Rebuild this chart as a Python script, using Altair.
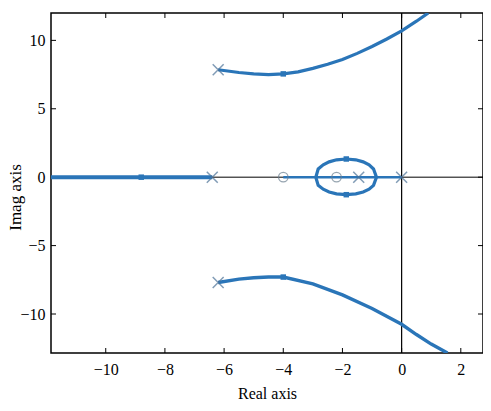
import altair as alt
import pandas as pd

# ---- data ----
x_ticks = [-10, -8, -6, -4, -2, 0, 2]
y_ticks = [-10, -5, 0, 5, 10]
x_dom = [-11.85, 2.75]
y_dom = [-12.85, 12.0]

upper_x = [-6.2, -5.5, -5.0, -4.5, -4.0, -3.5, -3.0, -2.5, -2.0, -1.5, -1.0, -0.5, 0.0, 0.5, 0.9]
upper_y = [7.85, 7.65, 7.55, 7.5, 7.55, 7.7, 7.95, 8.25, 8.6, 9.05, 9.55, 10.1, 10.7, 11.4, 12.0]

lower_x = [-6.2, -5.5, -5.0, -4.5, -4.0, -3.0, -2.0, -1.0, 0.0, 0.5, 1.0, 1.55]
lower_y = [-7.7, -7.45, -7.35, -7.3, -7.3, -7.8, -8.6, -9.6, -10.75, -11.5, -12.2, -12.85]

ell_x = [-2.9, -2.82, -2.65, -2.45, -2.2, -1.87, -1.55, -1.3, -1.1, -0.95, -0.85,
         -0.95, -1.1, -1.3, -1.55, -1.87, -2.2, -2.45, -2.65, -2.82, -2.9]
ell_y = [0.0, 0.6, 0.9, 1.12, 1.27, 1.33, 1.27, 1.12, 0.9, 0.6, 0.0,
         -0.6, -0.88, -1.08, -1.22, -1.28, -1.22, -1.08, -0.88, -0.6, 0.0]

real_left_x = [-11.85, -6.4]
real_right_x = [-4.0, 0.0]

pole_x = [-6.2, -6.2, -6.4, -1.45, 0.0]
pole_y = [7.85, -7.7, 0.0, 0.0, 0.0]
zero_x = [-4.0, -2.2]
zero_y = [0.0, 0.0]

arrow_x = [-8.8, -4.0, -4.0, -1.87, -1.87]
arrow_y = [0.0, 7.55, -7.3, 1.33, -1.28]

BLUE = "#2a75b8"
MARK = "#4d7398"
FONT = "Liberation Serif"

W, H = 432, 340

xs = alt.Scale(domain=x_dom, nice=False, zero=False)
ys = alt.Scale(domain=y_dom, nice=False, zero=False)

def line_df(xv, yv):
    return pd.DataFrame({"x": xv, "y": yv, "o": list(range(len(xv)))})

def curve(xv, yv, width):
    return alt.Chart(line_df(xv, yv)).mark_line(color=BLUE, strokeWidth=width, clip=True).encode(
        x=alt.X("x:Q", scale=xs), y=alt.Y("y:Q", scale=ys), order="o:Q")

base_axes = alt.Chart(pd.DataFrame({"x": [0.0], "y": [0.0]})).mark_point(opacity=0).encode(
    x=alt.X("x:Q", scale=xs, title="Real axis",
            axis=alt.Axis(values=x_ticks, ticks=False, domain=False, grid=False,
                          labelPadding=8, titlePadding=8, labelFont=FONT, titleFont=FONT,
                          labelFontSize=16, titleFontSize=16, labelColor="black",
                          titleColor="black", titleFontWeight="normal")),
    y=alt.Y("y:Q", scale=ys, title="Imag axis",
            axis=alt.Axis(values=y_ticks, ticks=False, domain=False, grid=False,
                          labelPadding=6, labelFont=FONT, titleFont=FONT,
                          labelFontSize=16, titleFontSize=17, labelColor="black",
                          titleColor="black", titleFontWeight="normal",
                          titleAngle=270, titleBaseline="bottom", titleAlign="center",
                          titleX=-27, titleY=184)),
)

zero_h = alt.Chart(pd.DataFrame({"y": [0.0]})).mark_rule(color="black", strokeWidth=1).encode(
    y=alt.Y("y:Q", scale=ys))
zero_v = alt.Chart(pd.DataFrame({"x": [0.0]})).mark_rule(color="black", strokeWidth=1.2).encode(
    x=alt.X("x:Q", scale=xs))

xt = pd.DataFrame({"x": x_ticks})
yt = pd.DataFrame({"y": y_ticks})
tick_b = alt.Chart(xt).mark_rule(color="black").encode(x=alt.X("x:Q", scale=xs), y=alt.value(H), y2=alt.value(H - 5))
tick_t = alt.Chart(xt).mark_rule(color="black").encode(x=alt.X("x:Q", scale=xs), y=alt.value(0), y2=alt.value(5))
tick_l = alt.Chart(yt).mark_rule(color="black").encode(y=alt.Y("y:Q", scale=ys), x=alt.value(0), x2=alt.value(5))
tick_r = alt.Chart(yt).mark_rule(color="black").encode(y=alt.Y("y:Q", scale=ys), x=alt.value(W), x2=alt.value(W - 5))

real_left = curve(real_left_x, [0.0, 0.0], 4)
real_right = curve(real_right_x, [0.0, 0.0], 2.5)
up = curve(upper_x, upper_y, 3.2)
lo = curve(lower_x, lower_y, 3.4)
ell = curve(ell_x, ell_y, 3.2)

poles = alt.Chart(pd.DataFrame({"x": pole_x, "y": pole_y})).mark_point(
    shape="M-1,-1L1,1M-1,1L1,-1", size=120, color=MARK, strokeWidth=1.5, filled=False).encode(
    x=alt.X("x:Q", scale=xs), y=alt.Y("y:Q", scale=ys))
zeros = alt.Chart(pd.DataFrame({"x": zero_x, "y": zero_y})).mark_point(
    shape="circle", size=90, color="#6b7f90", strokeWidth=1.3, filled=False).encode(
    x=alt.X("x:Q", scale=xs), y=alt.Y("y:Q", scale=ys))
arrows = alt.Chart(pd.DataFrame({"x": arrow_x, "y": arrow_y})).mark_point(
    shape="square", size=30, color=BLUE, filled=True, opacity=1).encode(
    x=alt.X("x:Q", scale=xs), y=alt.Y("y:Q", scale=ys))

chart = alt.layer(
    base_axes, zero_h, zero_v, tick_b, tick_t, tick_l, tick_r,
    real_left, real_right, up, lo, ell, arrows, zeros, poles
).properties(
    width=W, height=H,
    background="white",
    autosize=alt.AutoSizeParams(type="none"),
    padding={"left": 43, "top": 5, "right": 0, "bottom": 50},
).configure_view(
    stroke="black", strokeWidth=1.5
)

chart.save("out.html", embed_options={"renderer": "svg", "actions": False})
